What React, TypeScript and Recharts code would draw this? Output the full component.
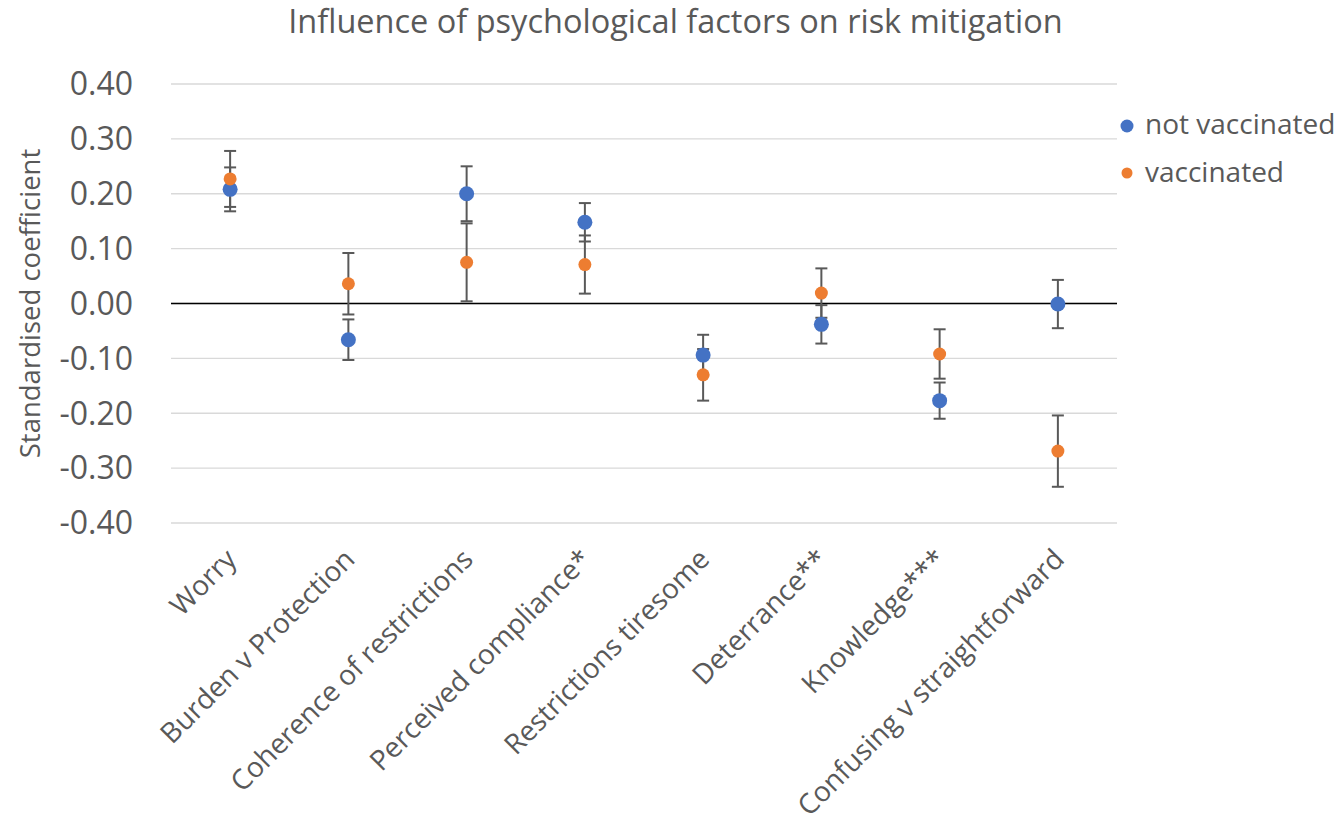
import React from 'react';
import {
  ComposedChart,
  Scatter,
  XAxis,
  YAxis,
  CartesianGrid,
  ErrorBar,
  ReferenceLine,
  Legend,
} from 'recharts';

const categories = [
  'Worry',
  'Burden v Protection',
  'Coherence of restrictions',
  'Perceived compliance*',
  'Restrictions tiresome',
  'Deterrance**',
  'Knowledge***',
  'Confusing v straightforward',
];
const notVaccinated = [0.208, -0.066, 0.2, 0.148, -0.094, -0.038, -0.177, -0.001];
const notVaccinatedErr = [0.04, 0.037, 0.05, 0.035, 0.037, 0.035, 0.033, 0.044];
const vaccinated = [0.227, 0.036, 0.075, 0.071, -0.13, 0.019, -0.092, -0.269];
const vaccinatedErr = [0.051, 0.056, 0.071, 0.053, 0.047, 0.045, 0.045, 0.065];
const yTicks = [-0.4, -0.3, -0.2, -0.1, 0, 0.1, 0.2, 0.3, 0.4];
const seriesNames = ['not vaccinated', 'vaccinated'];
const seriesColors = ['#4472C4', '#ED7D31'];

const data = categories.map((name, i) => ({
  name,
  nv: notVaccinated[i],
  nvErr: notVaccinatedErr[i],
  v: vaccinated[i],
  vErr: vaccinatedErr[i],
}));

const FONT = '"Open Sans", sans-serif';
const TEXT = '#595959';

const XTick = (props: any) => {
  const { x, y, payload } = props;
  const ax = x + 8;
  const ay = y + 38;
  return (
    <text
      x={ax}
      y={ay}
      textAnchor="end"
      transform={`rotate(-45, ${ax}, ${ay})`}
      fontFamily={FONT}
      fontSize={28}
      fill={TEXT}
    >
      {payload.value}
    </text>
  );
};

const dot = (color: string, r: number) => (props: any) => (
  <circle cx={props.cx} cy={props.cy} r={r} fill={color} />
);

const LegendContent = () => (
  <svg width={224} height={100}>
    {seriesNames.map((n, i) => (
      <g key={n}>
        <circle cx={12} cy={21 + i * 47} r={i === 0 ? 6.5 : 5.5} fill={seriesColors[i]} />
        <text x={30} y={29 + i * 48} fontFamily={FONT} fontSize={28} fill={TEXT}>
          {n}
        </text>
      </g>
    ))}
  </svg>
);

const YLabel = (props: any) => {
  const { viewBox } = props;
  const cx = viewBox.x + 40;
  const cy = viewBox.y + viewBox.height / 2;
  return (
    <text
      x={cx}
      y={cy}
      transform={`rotate(-90, ${cx}, ${cy})`}
      textAnchor="middle"
      fontFamily={FONT}
      fontSize={27.5}
      fill={TEXT}
    >
      Standardised coefficient
    </text>
  );
};

export default function App() {
  return (
    <div style={{ position: 'absolute', left: 0, top: 0, width: 1339, height: 818, background: '#fff' }}>
      <div
        style={{
          position: 'absolute',
          left: 0,
          top: 5,
          width: 1351,
          textAlign: 'center',
          fontFamily: FONT,
          fontSize: 32.5,
          lineHeight: '32px',
          color: TEXT,
        }}
      >
        Influence of psychological factors on risk mitigation
      </div>
      <ComposedChart
        width={1339}
        height={818}
        data={data}
        margin={{ top: 84, right: 222, bottom: 0, left: 0 }}
        style={{ position: 'absolute', left: 0, top: 0 }}
      >
        <CartesianGrid vertical={false} stroke="#d9d9d9" strokeWidth={1.3} />
        <XAxis
          dataKey="name"
          type="category"
          scale="band"
          height={295}
          axisLine={false}
          tickLine={false}
          tickSize={0}
          tickMargin={0}
          interval={0}
          tick={<XTick />}
        />
        <YAxis
          type="number"
          domain={[-0.4, 0.4]}
          ticks={yTicks}
          width={171}
          axisLine={false}
          tickLine={false}
          tickSize={0}
          tickMargin={38}
          tickFormatter={(v: number) => v.toFixed(2)}
          tick={{ fontFamily: FONT, fontSize: 32, fill: TEXT }}
          label={<YLabel />}
        />
        <ReferenceLine y={0} stroke="#000" strokeWidth={1.3} />
        <Legend
          layout="horizontal"
          verticalAlign="middle"
          align="center"
          content={<LegendContent />}
          wrapperStyle={{ position: 'absolute', left: 1115, top: 105, width: 224, height: 100 }}
        />
        <Scatter name={seriesNames[0]} dataKey="nv" fill={seriesColors[0]} shape={dot(seriesColors[0], 7.5)} isAnimationActive={false}>
          <ErrorBar dataKey="nvErr" direction="y" width={6} stroke="#595959" strokeWidth={2} />
        </Scatter>
        <Scatter name={seriesNames[1]} dataKey="v" fill={seriesColors[1]} shape={dot(seriesColors[1], 6.5)} isAnimationActive={false}>
          <ErrorBar dataKey="vErr" direction="y" width={6} stroke="#595959" strokeWidth={2} />
        </Scatter>
      </ComposedChart>
    </div>
  );
}
